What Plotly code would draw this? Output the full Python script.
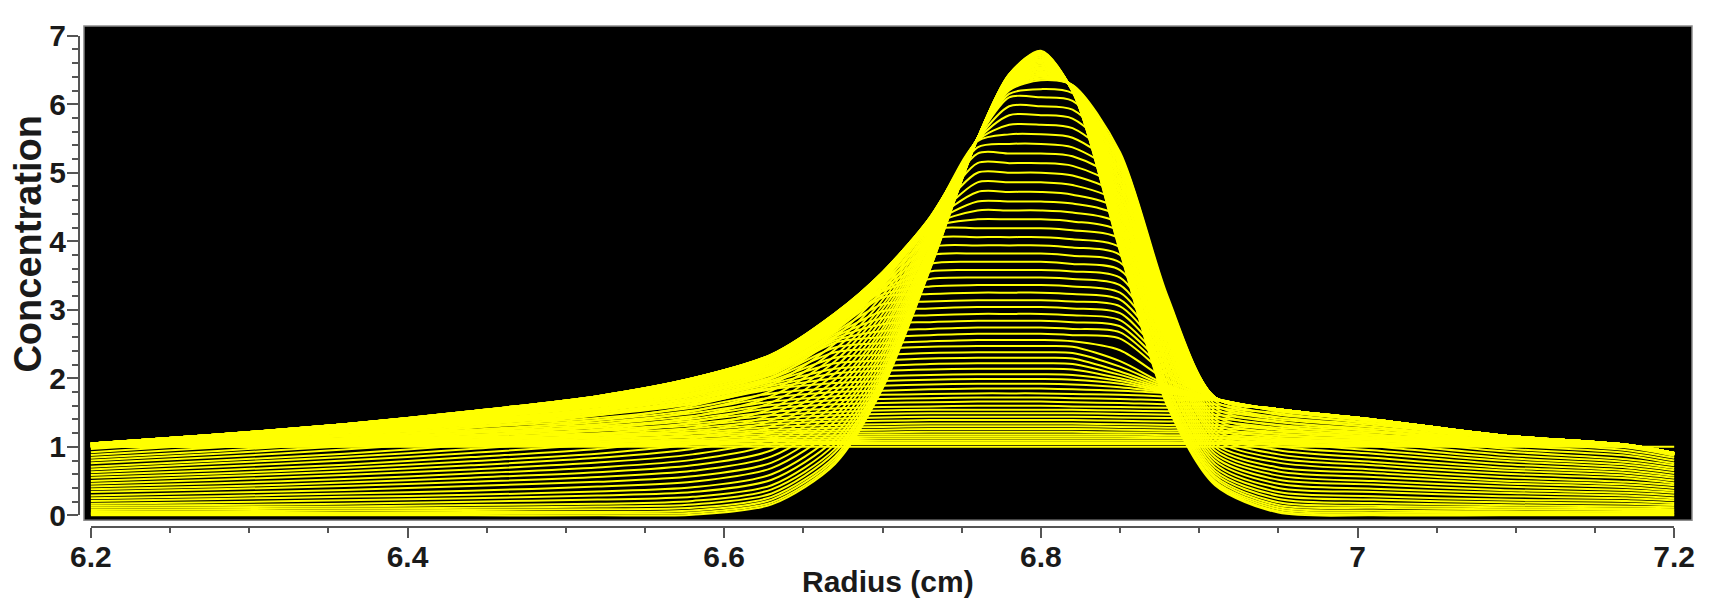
import plotly.graph_objects as go

# Radial grid (cm) shared by every scan
radius = [6.20, 6.28, 6.36, 6.44, 6.52, 6.58, 6.63, 6.67, 6.70, 6.73, 6.76,
          6.78, 6.80, 6.82, 6.85, 6.88, 6.91, 6.95, 7.01, 7.09, 7.17, 7.20]

# Scans while the plateau rises from the loading concentration
scans_loading = [
    [1.00, 1.00, 1.00, 1.00, 1.00, 1.00, 1.00, 1.00, 1.00, 1.00, 1.00, 1.00, 1.00, 1.00, 1.00, 1.00, 1.00, 1.00, 1.00, 1.00, 1.00, 1.00],
    [1.00, 1.00, 1.01, 1.01, 1.02, 1.03, 1.03, 1.04, 1.04, 1.04, 1.04, 1.04, 1.04, 1.04, 1.04, 1.04, 1.04, 1.03, 1.02, 1.01, 1.00, 0.88],
    [1.00, 1.01, 1.02, 1.03, 1.04, 1.06, 1.08, 1.08, 1.09, 1.09, 1.09, 1.09, 1.09, 1.09, 1.09, 1.09, 1.09, 1.07, 1.05, 1.02, 1.00, 0.88],
    [1.00, 1.02, 1.03, 1.05, 1.07, 1.09, 1.13, 1.14, 1.15, 1.15, 1.15, 1.15, 1.15, 1.15, 1.15, 1.14, 1.14, 1.11, 1.08, 1.03, 1.01, 0.89],
    [1.01, 1.02, 1.05, 1.07, 1.10, 1.14, 1.19, 1.21, 1.21, 1.22, 1.22, 1.22, 1.22, 1.22, 1.21, 1.21, 1.21, 1.16, 1.12, 1.05, 1.01, 0.89],
    [1.01, 1.03, 1.06, 1.10, 1.14, 1.19, 1.25, 1.28, 1.29, 1.30, 1.30, 1.30, 1.30, 1.30, 1.29, 1.28, 1.28, 1.22, 1.16, 1.07, 1.01, 0.89],
    [1.01, 1.04, 1.08, 1.13, 1.18, 1.24, 1.33, 1.37, 1.38, 1.39, 1.39, 1.39, 1.39, 1.39, 1.38, 1.37, 1.37, 1.28, 1.21, 1.09, 1.02, 0.90],
    [1.02, 1.06, 1.10, 1.16, 1.23, 1.31, 1.41, 1.46, 1.48, 1.49, 1.49, 1.49, 1.49, 1.49, 1.48, 1.47, 1.47, 1.36, 1.26, 1.11, 1.02, 0.90],
    [1.02, 1.07, 1.12, 1.20, 1.28, 1.38, 1.51, 1.56, 1.58, 1.59, 1.60, 1.60, 1.60, 1.59, 1.58, 1.57, 1.57, 1.43, 1.32, 1.13, 1.02, 0.90],
    [1.02, 1.08, 1.15, 1.23, 1.33, 1.45, 1.61, 1.68, 1.70, 1.71, 1.72, 1.72, 1.72, 1.71, 1.70, 1.68, 1.68, 1.52, 1.38, 1.16, 1.03, 0.91],
    [1.03, 1.10, 1.17, 1.28, 1.39, 1.53, 1.72, 1.80, 1.82, 1.84, 1.85, 1.85, 1.85, 1.84, 1.82, 1.78, 1.69, 1.53, 1.38, 1.16, 1.03, 0.91],
]

scans_building = [
    [1.03, 1.11, 1.20, 1.32, 1.46, 1.62, 1.84, 1.93, 1.96, 1.98, 1.99, 1.99, 1.99, 1.98, 1.92, 1.80, 1.69, 1.53, 1.38, 1.16, 1.03, 0.91],
    [1.03, 1.12, 1.22, 1.34, 1.49, 1.66, 1.89, 2.07, 2.11, 2.13, 2.14, 2.14, 2.14, 2.13, 2.00, 1.83, 1.69, 1.53, 1.39, 1.16, 1.03, 0.91],
    [1.04, 1.13, 1.23, 1.36, 1.52, 1.70, 1.95, 2.22, 2.26, 2.29, 2.30, 2.30, 2.30, 2.29, 2.10, 1.86, 1.70, 1.53, 1.39, 1.16, 1.03, 0.91],
    [1.04, 1.13, 1.24, 1.38, 1.55, 1.74, 2.00, 2.38, 2.43, 2.46, 2.47, 2.47, 2.47, 2.46, 2.25, 1.90, 1.70, 1.54, 1.39, 1.17, 1.03, 0.91],
    [1.04, 1.14, 1.26, 1.41, 1.58, 1.78, 2.05, 2.52, 2.60, 2.63, 2.65, 2.65, 2.65, 2.63, 2.58, 2.05, 1.71, 1.54, 1.39, 1.17, 1.03, 0.91],
    [1.04, 1.15, 1.27, 1.42, 1.60, 1.81, 2.09, 2.58, 2.79, 2.82, 2.84, 2.84, 2.84, 2.82, 2.76, 2.15, 1.71, 1.54, 1.39, 1.17, 1.03, 0.91],
    [1.04, 1.15, 1.28, 1.44, 1.62, 1.84, 2.13, 2.64, 2.98, 3.02, 3.04, 3.04, 3.04, 3.02, 2.95, 2.25, 1.71, 1.54, 1.39, 1.17, 1.03, 0.91],
    [1.04, 1.16, 1.29, 1.45, 1.64, 1.87, 2.17, 2.70, 3.18, 3.23, 3.25, 3.25, 3.25, 3.23, 3.15, 2.35, 1.71, 1.54, 1.40, 1.17, 1.03, 0.91],
    [1.04, 1.16, 1.29, 1.46, 1.66, 1.89, 2.20, 2.74, 3.27, 3.45, 3.47, 3.47, 3.47, 3.45, 3.36, 2.45, 1.71, 1.55, 1.40, 1.17, 1.03, 0.91],
    [1.05, 1.16, 1.30, 1.47, 1.67, 1.91, 2.23, 2.78, 3.32, 3.67, 3.70, 3.70, 3.70, 3.67, 3.58, 2.55, 1.71, 1.55, 1.40, 1.17, 1.03, 0.91],
]

scans_peaking = [
    [1.05, 1.17, 1.31, 1.48, 1.69, 1.93, 2.26, 2.81, 3.37, 3.91, 3.94, 3.94, 3.94, 3.91, 3.80, 2.62, 1.72, 1.55, 1.40, 1.17, 1.03, 0.91],
    [1.05, 1.17, 1.31, 1.49, 1.70, 1.95, 2.28, 2.84, 3.41, 4.16, 4.19, 4.19, 4.19, 4.16, 4.03, 2.70, 1.72, 1.55, 1.40, 1.17, 1.03, 0.91],
    [1.05, 1.17, 1.32, 1.50, 1.71, 1.96, 2.30, 2.87, 3.45, 4.22, 4.45, 4.45, 4.45, 4.42, 4.25, 2.78, 1.72, 1.55, 1.40, 1.17, 1.03, 0.91],
    [1.05, 1.17, 1.32, 1.50, 1.72, 1.97, 2.31, 2.89, 3.47, 4.25, 4.72, 4.72, 4.72, 4.68, 4.45, 2.85, 1.72, 1.55, 1.40, 1.17, 1.03, 0.91],
    [1.05, 1.18, 1.32, 1.51, 1.72, 1.98, 2.32, 2.91, 3.49, 4.28, 5.00, 5.00, 5.00, 4.96, 4.65, 2.92, 1.72, 1.55, 1.40, 1.17, 1.03, 0.91],
    [1.05, 1.18, 1.33, 1.51, 1.73, 1.99, 2.33, 2.92, 3.51, 4.30, 5.28, 5.28, 5.28, 5.24, 4.85, 2.98, 1.72, 1.55, 1.40, 1.17, 1.03, 0.91],
    [1.05, 1.18, 1.33, 1.51, 1.73, 1.99, 2.34, 2.93, 3.52, 4.32, 5.46, 5.56, 5.56, 5.51, 5.00, 3.04, 1.72, 1.55, 1.40, 1.17, 1.03, 0.91],
    [1.05, 1.18, 1.33, 1.52, 1.74, 2.00, 2.34, 2.94, 3.54, 4.33, 5.48, 5.84, 5.84, 5.79, 5.12, 3.10, 1.72, 1.55, 1.40, 1.17, 1.03, 0.91],
    [1.05, 1.18, 1.33, 1.52, 1.74, 2.00, 2.35, 2.95, 3.55, 4.35, 5.50, 6.10, 6.10, 6.05, 5.22, 3.15, 1.72, 1.55, 1.40, 1.17, 1.03, 0.91],
    [1.05, 1.18, 1.33, 1.52, 1.74, 2.00, 2.35, 2.95, 3.55, 4.35, 5.50, 6.20, 6.35, 6.28, 5.30, 3.20, 1.72, 1.55, 1.40, 1.17, 1.03, 0.91],
]

# Scans recorded in between the ones above while the plateau was rising
scans_interleaved = [
    [1.00, 1.00, 1.01, 1.02, 1.03, 1.04, 1.05, 1.06, 1.06, 1.06, 1.06, 1.06, 1.06, 1.06, 1.06, 1.06, 1.06, 1.05, 1.03, 1.01, 1.00, 0.88],
    [1.00, 1.01, 1.02, 1.04, 1.05, 1.07, 1.10, 1.11, 1.12, 1.12, 1.12, 1.12, 1.12, 1.12, 1.12, 1.12, 1.12, 1.09, 1.06, 1.02, 1.00, 0.88],
    [1.00, 1.02, 1.04, 1.06, 1.08, 1.11, 1.16, 1.17, 1.18, 1.18, 1.18, 1.18, 1.18, 1.18, 1.18, 1.17, 1.17, 1.13, 1.10, 1.04, 1.01, 0.89],
    [1.01, 1.02, 1.05, 1.08, 1.12, 1.16, 1.22, 1.24, 1.25, 1.26, 1.26, 1.26, 1.26, 1.26, 1.25, 1.24, 1.24, 1.19, 1.14, 1.06, 1.01, 0.89],
    [1.01, 1.03, 1.07, 1.11, 1.16, 1.21, 1.29, 1.32, 1.33, 1.34, 1.34, 1.34, 1.34, 1.34, 1.33, 1.32, 1.32, 1.25, 1.18, 1.08, 1.01, 0.89],
    [1.01, 1.05, 1.09, 1.14, 1.20, 1.27, 1.37, 1.41, 1.43, 1.44, 1.44, 1.44, 1.44, 1.44, 1.43, 1.42, 1.42, 1.32, 1.23, 1.10, 1.02, 0.90],
    [1.02, 1.06, 1.11, 1.18, 1.25, 1.34, 1.46, 1.51, 1.53, 1.54, 1.54, 1.54, 1.54, 1.54, 1.53, 1.52, 1.52, 1.40, 1.29, 1.12, 1.02, 0.90],
    [1.02, 1.07, 1.13, 1.21, 1.30, 1.41, 1.56, 1.62, 1.64, 1.65, 1.66, 1.66, 1.66, 1.65, 1.64, 1.62, 1.62, 1.47, 1.35, 1.14, 1.02, 0.90],
    [1.02, 1.09, 1.16, 1.25, 1.36, 1.49, 1.66, 1.74, 1.76, 1.77, 1.78, 1.78, 1.78, 1.77, 1.76, 1.73, 1.68, 1.52, 1.38, 1.16, 1.03, 0.91],
    [1.03, 1.10, 1.18, 1.30, 1.42, 1.57, 1.78, 1.86, 1.89, 1.91, 1.92, 1.92, 1.92, 1.91, 1.87, 1.79, 1.69, 1.53, 1.38, 1.16, 1.03, 0.91],
    [1.03, 1.11, 1.21, 1.33, 1.47, 1.64, 1.86, 2.00, 2.03, 2.05, 2.06, 2.06, 2.06, 2.05, 1.96, 1.81, 1.69, 1.53, 1.38, 1.16, 1.03, 0.91],
    [1.03, 1.12, 1.22, 1.35, 1.50, 1.68, 1.92, 2.14, 2.18, 2.21, 2.22, 2.22, 2.22, 2.21, 2.05, 1.84, 1.69, 1.53, 1.39, 1.16, 1.03, 0.91],
    [1.04, 1.13, 1.23, 1.37, 1.53, 1.72, 1.97, 2.30, 2.34, 2.37, 2.38, 2.38, 2.38, 2.37, 2.17, 1.88, 1.70, 1.53, 1.39, 1.16, 1.03, 0.91],
    [1.04, 1.13, 1.25, 1.39, 1.56, 1.76, 2.02, 2.45, 2.51, 2.54, 2.56, 2.56, 2.56, 2.54, 2.41, 1.97, 1.70, 1.54, 1.39, 1.17, 1.03, 0.91],
    [1.04, 1.14, 1.26, 1.41, 1.59, 1.79, 2.07, 2.55, 2.69, 2.72, 2.74, 2.74, 2.74, 2.72, 2.67, 2.10, 1.71, 1.54, 1.39, 1.17, 1.03, 0.91],
    [1.04, 1.15, 1.27, 1.43, 1.61, 1.82, 2.11, 2.61, 2.88, 2.92, 2.94, 2.94, 2.94, 2.92, 2.85, 2.20, 1.71, 1.54, 1.39, 1.17, 1.03, 0.91],
    [1.04, 1.15, 1.28, 1.44, 1.63, 1.85, 2.15, 2.67, 3.08, 3.12, 3.14, 3.14, 3.14, 3.12, 3.05, 2.30, 1.71, 1.54, 1.39, 1.17, 1.03, 0.91],
    [1.04, 1.16, 1.29, 1.45, 1.65, 1.88, 2.18, 2.72, 3.22, 3.34, 3.36, 3.36, 3.36, 3.34, 3.25, 2.40, 1.71, 1.54, 1.40, 1.17, 1.03, 0.91],
    [1.04, 1.16, 1.29, 1.46, 1.66, 1.90, 2.21, 2.76, 3.29, 3.56, 3.58, 3.58, 3.58, 3.56, 3.47, 2.50, 1.71, 1.55, 1.40, 1.17, 1.03, 0.91],
    [1.05, 1.16, 1.30, 1.47, 1.68, 1.92, 2.24, 2.79, 3.34, 3.79, 3.82, 3.82, 3.82, 3.79, 3.69, 2.58, 1.71, 1.55, 1.40, 1.17, 1.03, 0.91],
    [1.05, 1.17, 1.31, 1.48, 1.69, 1.94, 2.27, 2.82, 3.39, 4.03, 4.06, 4.06, 4.06, 4.03, 3.91, 2.66, 1.72, 1.55, 1.40, 1.17, 1.03, 0.91],
    [1.05, 1.17, 1.31, 1.49, 1.70, 1.95, 2.29, 2.85, 3.43, 4.19, 4.32, 4.32, 4.32, 4.29, 4.14, 2.74, 1.72, 1.55, 1.40, 1.17, 1.03, 0.91],
    [1.05, 1.17, 1.32, 1.50, 1.71, 1.96, 2.30, 2.88, 3.46, 4.23, 4.58, 4.58, 4.58, 4.55, 4.35, 2.81, 1.72, 1.55, 1.40, 1.17, 1.03, 0.91],
    [1.05, 1.17, 1.32, 1.50, 1.72, 1.97, 2.31, 2.90, 3.48, 4.26, 4.86, 4.86, 4.86, 4.82, 4.55, 2.88, 1.72, 1.55, 1.40, 1.17, 1.03, 0.91],
    [1.05, 1.18, 1.32, 1.51, 1.72, 1.98, 2.32, 2.91, 3.50, 4.29, 5.14, 5.14, 5.14, 5.10, 4.75, 2.95, 1.72, 1.55, 1.40, 1.17, 1.03, 0.91],
    [1.05, 1.18, 1.33, 1.51, 1.73, 1.99, 2.33, 2.92, 3.51, 4.31, 5.37, 5.42, 5.42, 5.37, 4.92, 3.01, 1.72, 1.55, 1.40, 1.17, 1.03, 0.91],
    [1.05, 1.18, 1.33, 1.51, 1.73, 1.99, 2.34, 2.93, 3.53, 4.32, 5.47, 5.70, 5.70, 5.65, 5.06, 3.07, 1.72, 1.55, 1.40, 1.17, 1.03, 0.91],
    [1.05, 1.18, 1.33, 1.52, 1.74, 2.00, 2.34, 2.94, 3.54, 4.34, 5.49, 5.97, 5.97, 5.92, 5.17, 3.12, 1.72, 1.55, 1.40, 1.17, 1.03, 0.91],
    [1.05, 1.18, 1.33, 1.52, 1.74, 2.00, 2.35, 2.95, 3.55, 4.35, 5.50, 6.15, 6.22, 6.16, 5.26, 3.17, 1.72, 1.55, 1.40, 1.17, 1.03, 0.91],
]

# Scans while the wings drain into the band
scans_draining = [
    [1.01, 1.13, 1.28, 1.46, 1.67, 1.92, 2.26, 2.86, 3.48, 4.32, 5.50, 6.21, 6.37, 6.28, 5.24, 3.14, 1.67, 1.49, 1.34, 1.12, 0.99, 0.87],
    [0.97, 1.09, 1.22, 1.40, 1.60, 1.84, 2.17, 2.77, 3.41, 4.29, 5.50, 6.22, 6.38, 6.27, 5.18, 3.07, 1.62, 1.43, 1.29, 1.08, 0.95, 0.84],
    [0.92, 1.04, 1.17, 1.34, 1.53, 1.76, 2.09, 2.69, 3.35, 4.26, 5.50, 6.23, 6.40, 6.27, 5.13, 3.01, 1.57, 1.37, 1.23, 1.03, 0.91, 0.80],
    [0.88, 0.99, 1.12, 1.28, 1.46, 1.68, 2.00, 2.60, 3.28, 4.23, 5.50, 6.24, 6.42, 6.27, 5.07, 2.94, 1.52, 1.31, 1.18, 0.98, 0.87, 0.76],
    [0.84, 0.94, 1.06, 1.22, 1.39, 1.60, 1.91, 2.51, 3.21, 4.20, 5.50, 6.25, 6.44, 6.26, 5.01, 2.88, 1.46, 1.25, 1.12, 0.94, 0.82, 0.73],
    [0.80, 0.90, 1.01, 1.16, 1.32, 1.52, 1.82, 2.42, 3.14, 4.17, 5.50, 6.26, 6.45, 6.26, 4.95, 2.81, 1.41, 1.19, 1.06, 0.89, 0.78, 0.69],
    [0.76, 0.85, 0.96, 1.09, 1.25, 1.44, 1.74, 2.33, 3.07, 4.14, 5.50, 6.27, 6.47, 6.25, 4.89, 2.75, 1.36, 1.13, 1.01, 0.84, 0.74, 0.66],
    [0.71, 0.80, 0.90, 1.03, 1.18, 1.36, 1.65, 2.25, 3.01, 4.11, 5.50, 6.28, 6.49, 6.25, 4.84, 2.69, 1.31, 1.07, 0.95, 0.80, 0.70, 0.62],
    [0.67, 0.76, 0.85, 0.97, 1.11, 1.28, 1.56, 2.16, 2.94, 4.08, 5.50, 6.29, 6.51, 6.25, 4.78, 2.62, 1.26, 1.01, 0.90, 0.75, 0.66, 0.58],
    [0.63, 0.71, 0.80, 0.91, 1.04, 1.20, 1.47, 2.07, 2.87, 4.05, 5.50, 6.30, 6.52, 6.24, 4.72, 2.56, 1.21, 0.95, 0.84, 0.70, 0.62, 0.55],
    [0.59, 0.66, 0.74, 0.85, 0.97, 1.12, 1.39, 1.98, 2.80, 4.02, 5.50, 6.31, 6.54, 6.24, 4.66, 2.49, 1.16, 0.89, 0.78, 0.66, 0.58, 0.51],
    [0.55, 0.61, 0.69, 0.79, 0.90, 1.04, 1.30, 1.89, 2.73, 3.99, 5.50, 6.32, 6.56, 6.24, 4.60, 2.43, 1.11, 0.83, 0.73, 0.61, 0.54, 0.47],
    [0.50, 0.57, 0.64, 0.73, 0.84, 0.97, 1.21, 1.81, 2.67, 3.96, 5.50, 6.33, 6.57, 6.23, 4.55, 2.36, 1.05, 0.77, 0.67, 0.56, 0.49, 0.44],
    [0.46, 0.52, 0.59, 0.67, 0.77, 0.89, 1.12, 1.72, 2.60, 3.92, 5.50, 6.33, 6.59, 6.23, 4.49, 2.30, 1.00, 0.70, 0.62, 0.51, 0.45, 0.40],
]

scans_banded = [
    [0.42, 0.47, 0.53, 0.61, 0.70, 0.81, 1.04, 1.63, 2.53, 3.89, 5.50, 6.34, 6.61, 6.23, 4.43, 2.23, 0.95, 0.64, 0.56, 0.47, 0.41, 0.36],
    [0.38, 0.42, 0.48, 0.55, 0.63, 0.73, 0.95, 1.54, 2.46, 3.86, 5.50, 6.35, 6.63, 6.22, 4.37, 2.17, 0.90, 0.58, 0.50, 0.42, 0.37, 0.33],
    [0.34, 0.38, 0.43, 0.49, 0.56, 0.65, 0.86, 1.45, 2.39, 3.83, 5.50, 6.36, 6.64, 6.22, 4.31, 2.11, 0.85, 0.52, 0.45, 0.37, 0.33, 0.29],
    [0.29, 0.33, 0.37, 0.43, 0.49, 0.57, 0.77, 1.37, 2.33, 3.80, 5.50, 6.37, 6.66, 6.22, 4.26, 2.04, 0.80, 0.46, 0.39, 0.33, 0.29, 0.25],
    [0.25, 0.28, 0.32, 0.36, 0.42, 0.49, 0.69, 1.28, 2.26, 3.77, 5.50, 6.38, 6.68, 6.21, 4.20, 1.98, 0.75, 0.40, 0.34, 0.28, 0.25, 0.22],
    [0.21, 0.24, 0.27, 0.30, 0.35, 0.41, 0.60, 1.19, 2.19, 3.74, 5.50, 6.39, 6.69, 6.21, 4.14, 1.91, 0.70, 0.34, 0.28, 0.23, 0.21, 0.18],
    [0.17, 0.19, 0.22, 0.25, 0.29, 0.34, 0.52, 1.11, 2.13, 3.72, 5.50, 6.40, 6.71, 6.21, 4.09, 1.86, 0.65, 0.29, 0.23, 0.19, 0.17, 0.15],
    [0.14, 0.15, 0.17, 0.20, 0.23, 0.27, 0.44, 1.04, 2.07, 3.69, 5.50, 6.41, 6.72, 6.20, 4.04, 1.80, 0.61, 0.24, 0.18, 0.15, 0.13, 0.12],
    [0.11, 0.12, 0.13, 0.15, 0.17, 0.21, 0.38, 0.97, 2.02, 3.67, 5.50, 6.42, 6.74, 6.20, 4.00, 1.75, 0.57, 0.19, 0.14, 0.12, 0.10, 0.09],
    [0.08, 0.09, 0.10, 0.11, 0.13, 0.16, 0.32, 0.92, 1.98, 3.65, 5.50, 6.42, 6.75, 6.20, 3.96, 1.71, 0.54, 0.15, 0.11, 0.09, 0.08, 0.07],
    [0.05, 0.06, 0.07, 0.08, 0.09, 0.11, 0.27, 0.86, 1.94, 3.63, 5.50, 6.43, 6.76, 6.19, 3.92, 1.67, 0.50, 0.12, 0.07, 0.06, 0.05, 0.05],
    [0.03, 0.04, 0.04, 0.05, 0.05, 0.07, 0.23, 0.82, 1.90, 3.61, 5.50, 6.43, 6.77, 6.19, 3.89, 1.64, 0.48, 0.09, 0.04, 0.04, 0.03, 0.03],
    [0.02, 0.02, 0.02, 0.02, 0.03, 0.04, 0.19, 0.78, 1.88, 3.60, 5.50, 6.44, 6.77, 6.19, 3.87, 1.61, 0.46, 0.06, 0.02, 0.02, 0.02, 0.01],
    [0.00, 0.00, 0.00, 0.00, 0.00, 0.01, 0.16, 0.75, 1.85, 3.59, 5.50, 6.44, 6.78, 6.19, 3.85, 1.59, 0.44, 0.04, 0.00, 0.00, 0.00, 0.00],
]

x_ticks = [6.2, 6.4, 6.6, 6.8, 7.0, 7.2]
x_tick_text = ["6.2", "6.4", "6.6", "6.8", "7", "7.2"]
y_ticks = [0, 1, 2, 3, 4, 5, 6, 7]

SCAN_COLOR = "#ffff00"
AXIS_GREY = "#555555"
TEXT_COLOR = "#1a1a1a"
FONT = "Liberation Sans, Arial, sans-serif"

fig = go.Figure()

for group in (scans_loading, scans_building, scans_peaking, scans_interleaved,
              scans_draining, scans_banded):
    for scan in group:
        fig.add_trace(go.Scatter(
            x=radius, y=scan, mode="lines",
            line=dict(color=SCAN_COLOR, width=2.0, shape="spline", smoothing=0.8),
            hoverinfo="skip", showlegend=False,
        ))

# empty trace that carries the offset scale axes
fig.add_trace(go.Scatter(x=[], y=[], xaxis="x2", yaxis="y2",
                         mode="lines", showlegend=False, hoverinfo="skip"))

W, H = 1723, 605
ML, MR, MT, MB = 79, 14, 10, 78
pw, ph = W - ML - MR, H - MT - MB


def px_x(p):
    return (p - ML) / pw


def px_y(p):
    return (H - MB - p) / ph


hidden = dict(showgrid=False, zeroline=False, showticklabels=False, ticks="",
              showline=False)

fig.update_layout(
    width=W, height=H,
    margin=dict(l=ML, r=MR, t=MT, b=MB, pad=0),
    paper_bgcolor="white", plot_bgcolor="rgba(0,0,0,0)",
    xaxis=dict(domain=[px_x(84), 1.0], range=[6.195625, 7.21125], **hidden),
    yaxis=dict(domain=[px_y(520), 1.0], range=[-0.0707, 7.1414], **hidden),
    xaxis2=dict(
        domain=[px_x(91), px_x(1691)], range=[6.2, 7.2],
        anchor="free", position=0,
        showline=True, linecolor=AXIS_GREY, linewidth=2,
        ticks="outside", ticklen=10, tickwidth=2, tickcolor=AXIS_GREY,
        tickvals=x_ticks, ticktext=x_tick_text, ticklabelstandoff=-7,
        tickfont=dict(family=FONT, size=30, color=TEXT_COLOR, weight="bold"),
        minor=dict(dtick=0.05, tick0=6.2, ticks="outside", ticklen=5,
                   tickwidth=1.5, tickcolor=AXIS_GREY),
        showgrid=False, zeroline=False,
    ),
    yaxis2=dict(
        domain=[px_y(515), px_y(20)], range=[0, 7],
        anchor="free", position=0,
        showline=True, linecolor=AXIS_GREY, linewidth=2,
        ticks="outside", ticklen=11, tickwidth=2, tickcolor=AXIS_GREY,
        tickvals=y_ticks, ticklabelstandoff=-5,
        tickfont=dict(family=FONT, size=30, color=TEXT_COLOR, weight="bold"),
        minor=dict(dtick=0.2, tick0=0, ticks="outside", ticklen=6,
                   tickwidth=1.5, tickcolor=AXIS_GREY),
        showgrid=False, zeroline=False,
    ),
    shapes=[
        # black plotting panel with a thin grey frame, behind the scans
        dict(type="rect", xref="x domain", yref="y domain",
             x0=0, x1=1, y0=0, y1=1, fillcolor="black",
             line=dict(color="#8c8c8c", width=1.5), layer="below"),
    ],
    annotations=[
        dict(text="Radius (cm)", xref="paper", yref="paper",
             x=px_x(897), y=px_y(583), xanchor="center", yanchor="middle",
             showarrow=False,
             font=dict(family=FONT, size=30, color=TEXT_COLOR, weight="bold")),
        dict(text="Concentration", xref="paper", yref="paper",
             x=px_x(27), y=px_y(235), xanchor="center", yanchor="middle",
             textangle=-90, showarrow=False,
             font=dict(family=FONT, size=38, color=TEXT_COLOR, weight="bold")),
    ],
)

fig.write_html("out.html")
